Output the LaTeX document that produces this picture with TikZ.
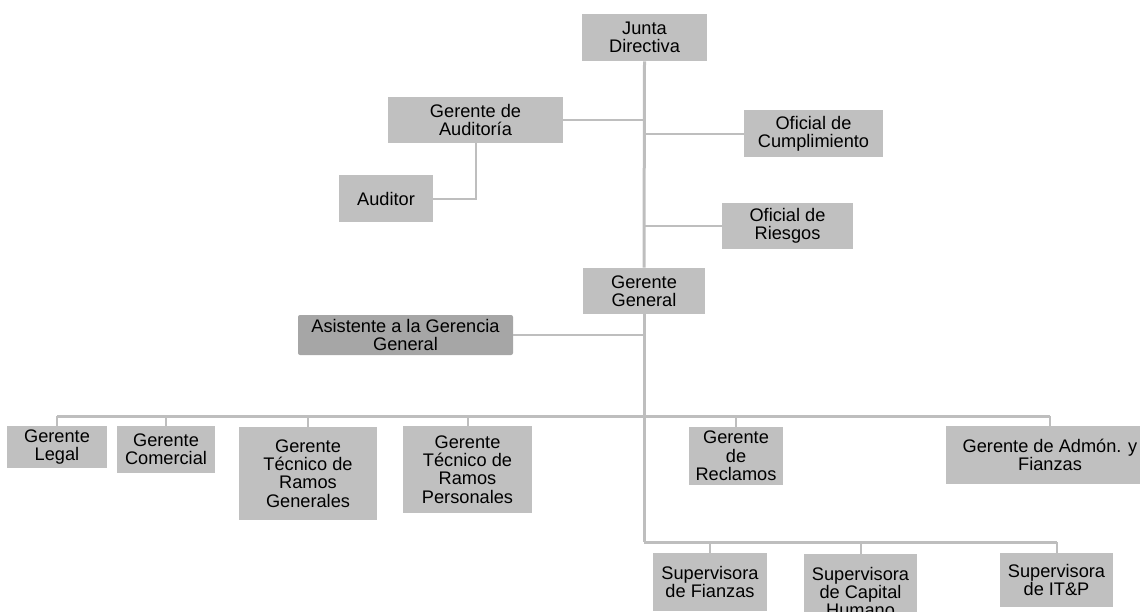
\documentclass[tikz,border=0pt]{standalone}
\usepackage{fontspec}
\setmainfont{Liberation Sans}
\usepackage{xcolor}
\usepackage{tikz}

\definecolor{cajagris}{HTML}{C0C0C0}
\definecolor{asisgris}{HTML}{A6A6A6}
\definecolor{lineagris}{HTML}{BEBEBE}

\tikzset{
  cargo/.style={fill=cajagris, inner sep=0pt, align=center,
    font=\fontsize{9.1}{9.2}\selectfont},
  linea/.style={draw=lineagris, line width=1pt},
  tronco/.style={draw=lineagris, line width=1.5pt},
}

\begin{document}
\begin{tikzpicture}[x=0.5pt, y=-0.5pt]
    \useasboundingbox (0,0) rectangle (1140,611);

    % Junta and staff positions
    \node[cargo, minimum width=62.5pt, minimum height=23.5pt] (junta) at (644.5,37.5) {Junta\\Directiva};
    \node[cargo, minimum width=87.5pt, minimum height=23pt] (auditoria) at (475.5,120) {Gerente de\\Auditoría};
    \node[cargo, minimum width=69.5pt, minimum height=23.5pt] (cumplimiento) at (813.5,133.5) {Oficial de\\Cumplimiento};
    \node[cargo, minimum width=47pt, minimum height=23.5pt] (auditor) at (386,198.5) {Auditor};
    \node[cargo, minimum width=65.5pt, minimum height=23pt] (riesgos) at (787.5,226) {Oficial de\\Riesgos};

    % General management
    \node[cargo, minimum width=61pt, minimum height=23pt] (gerencia) at (644,291) {Gerente\\General};
    \node[cargo, fill=asisgris, rounded corners=1pt, minimum width=107.5pt, minimum height=20pt] (asistente) at (405.5,335) {Asistente a la Gerencia\\General};

    % Managers
    \node[cargo, minimum width=50pt, minimum height=21pt] (legal) at (57,447) {Gerente\\Legal};
    \node[cargo, minimum width=49pt, minimum height=23.5pt] (comercial) at (166,449.5) {Gerente\\Comercial};
    \node[cargo, minimum width=69pt, minimum height=46.5pt] (generales) at (308,473.5) {Gerente\\Técnico de\\Ramos\\Generales};
    \node[cargo, minimum width=64.5pt, minimum height=43.5pt] (personales) at (467.5,469.5) {Gerente\\Técnico de\\Ramos\\Personales};
    \node[cargo, minimum width=47pt, minimum height=29pt] (reclamos) at (736,456) {Gerente\\de\\Reclamos};
    \node[cargo, minimum width=104pt, minimum height=29pt] (admon) at (1050,455) {Gerente de Admón. y\\Fianzas};

    % Supervisors
    \node[cargo, minimum width=57pt, minimum height=29pt] (supfianzas) at (710,582) {Supervisora\\de Fianzas};
    \node[cargo, minimum width=56.5pt, minimum height=38pt] (supcapital) at (860.5,592) {Supervisora\\de Capital\\Humano};
    \node[cargo, minimum width=56.5pt, minimum height=27pt] (supitp) at (1056.5,580) {Supervisora\\de IT\&P};

    % Bars
    \coordinate (barra) at (644,416);
    \coordinate (barrasup) at (644,542);

    % Trunk
    \draw[tronco] (junta.south) -- (gerencia.north);
    \draw[tronco] (gerencia.south) -- (barrasup);

    % Staff connectors
    \draw[linea] (auditoria.east) -- (auditoria.east -| junta.south);
    \draw[linea] (cumplimiento.west) -- (cumplimiento.west -| junta.south);
    \draw[linea] (riesgos.west) -- (riesgos.west -| junta.south);
    \draw[linea] (auditoria.south) |- (auditor.east);
    \draw[linea] (asistente.east) -- (asistente.east -| gerencia.south);

    % Managers bar
    \draw[tronco] (legal.north |- barra) -- (admon.north |- barra);
    \draw[linea] (legal.north) -- (legal.north |- barra);
    \draw[linea] (comercial.north) -- (comercial.north |- barra);
    \draw[linea] (generales.north) -- (generales.north |- barra);
    \draw[linea] (personales.north) -- (personales.north |- barra);
    \draw[linea] (reclamos.north) -- (reclamos.north |- barra);
    \draw[linea] (admon.north) -- (admon.north |- barra);

    % Supervisors bar
    \draw[tronco] (barrasup) -- (supitp.north |- barrasup);
    \draw[linea] (supfianzas.north) -- (supfianzas.north |- barrasup);
    \draw[linea] (supcapital.north) -- (supcapital.north |- barrasup);
    \draw[linea] (supitp.north) -- (supitp.north |- barrasup);
\end{tikzpicture}
\end{document}
